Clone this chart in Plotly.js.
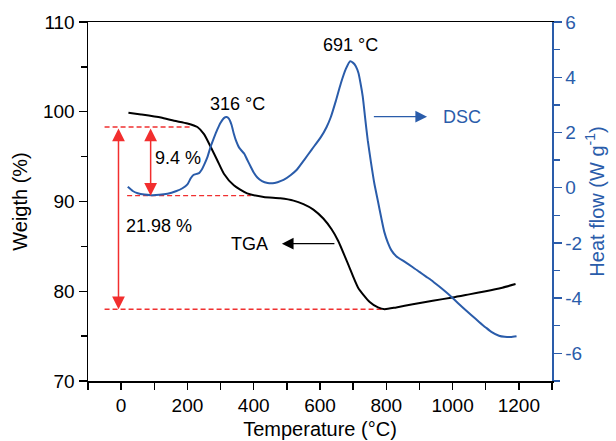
<!DOCTYPE html>
<html>
<head>
<meta charset="utf-8">
<script src="https://cdn.plot.ly/plotly-3.0.1.min.js"></script>
<style>html,body{margin:0;padding:0;background:#fff;}#chart{width:616px;height:441px;}</style>
</head>
<body>
<div id="chart"></div>
<script>
// ---- data ----
var tgaTemp = [22, 60, 120, 160, 200, 230, 250, 270, 290, 310, 340, 380, 430, 480, 520, 550, 580, 610, 635, 655, 685, 715, 750, 775, 795, 830, 880, 940, 1000, 1050, 1100, 1150, 1190];
var tgaWeight = [99.9, 99.7, 99.35, 99.0, 98.7, 98.3, 97.5, 96.1, 94.6, 93.1, 91.8, 90.9, 90.5, 90.35, 90.1, 89.7, 89.1, 88.1, 86.9, 85.6, 83.0, 80.4, 78.8, 78.2, 78.0, 78.2, 78.55, 78.95, 79.3, 79.65, 80.0, 80.4, 80.8];

var dscTemp = [20, 35, 50, 70, 90, 115, 140, 165, 185, 200, 210, 218, 228, 235, 243, 250, 260, 270, 280, 290, 300, 310, 318, 325, 333, 340, 346, 356, 365, 372, 380, 391, 400, 411, 425, 442, 457, 472, 490, 512, 530, 552, 575, 603, 620, 633, 648, 663, 678, 691, 700, 708, 716, 722, 729, 736, 744, 754, 764, 775, 785, 794, 805, 815, 830, 855, 880, 900, 920, 936, 960, 980, 996, 1020, 1040, 1057, 1080, 1100, 1117, 1140, 1157, 1175, 1193];
var dscHeat = [0.03, -0.12, -0.2, -0.25, -0.27, -0.26, -0.22, -0.13, -0.02, 0.12, 0.34, 0.46, 0.5, 0.53, 0.65, 0.82, 1.1, 1.48, 1.8, 2.1, 2.35, 2.52, 2.56, 2.5, 2.28, 1.95, 1.72, 1.45, 1.32, 1.22, 1.02, 0.76, 0.55, 0.37, 0.24, 0.17, 0.16, 0.2, 0.28, 0.46, 0.65, 1.0, 1.38, 1.84, 2.2, 2.57, 3.15, 3.78, 4.3, 4.58, 4.52, 4.4, 4.15, 3.8, 3.3, 2.55, 1.72, 0.9, 0.15, -0.5, -1.1, -1.6, -2.0, -2.26, -2.48, -2.68, -2.88, -3.05, -3.22, -3.35, -3.58, -3.78, -3.95, -4.22, -4.44, -4.62, -4.86, -5.06, -5.22, -5.36, -5.4, -5.41, -5.38];

// reference (dashed) levels of weight
var refLevel = [98.3, 90.65, 78.0];
var refStart = [-50, 18, -50];
var refEnd = [215, 391, 802];

// labels
var peakLabels = ['316 °C', '691 °C'];
var peakLabelX = [351, 693];
var peakLabelY = [100.9, 107.4];
var lossLabels = ['9.4 %', '21.98 %'];
var lossLabelX = [172, 113];
var lossLabelY = [94.8, 87.3];
var lossArrowX = [89, -8];
var lossArrowTop = [98.3, 98.3];
var lossArrowBottom = [90.65, 78.0];

var xTicks = [0, 200, 400, 600, 800, 1000, 1200];
var yTicks = [70, 80, 90, 100, 110];
var y2Ticks = [-6, -4, -2, 0, 2, 4, 6];
var y2TickText = ['-6', '-4', '-2', '0', '2', '4', '6'];

var BLUE = '#2a5caa';
var RED = '#f22e2e';
var FONT = 'Arial, "Liberation Sans", sans-serif';

var traces = [];
for (var i = 0; i < refLevel.length; i++) {
  traces.push({
    x: [refStart[i], refEnd[i]], y: [refLevel[i], refLevel[i]],
    mode: 'lines', line: {color: '#f03030', width: 1.4, dash: '5px,3px'},
    hoverinfo: 'skip', showlegend: false, xaxis: 'x', yaxis: 'y'
  });
}
traces.push({
  x: tgaTemp, y: tgaWeight, mode: 'lines', name: 'TGA',
  line: {color: '#000', width: 2, shape: 'spline', smoothing: 0.6},
  xaxis: 'x', yaxis: 'y', showlegend: false
});
traces.push({
  x: dscTemp, y: dscHeat, mode: 'lines', name: 'DSC',
  line: {color: BLUE, width: 2, shape: 'spline', smoothing: 0.6},
  xaxis: 'x', yaxis: 'y2', showlegend: false
});

var annotations = [];
for (var j = 0; j < peakLabels.length; j++) {
  annotations.push({x: peakLabelX[j], y: peakLabelY[j], xref: 'x', yref: 'y', text: peakLabels[j],
    showarrow: false, font: {family: FONT, size: 18, color: '#000'}, xanchor: 'center', yanchor: 'middle'});
}
for (var k = 0; k < lossLabels.length; k++) {
  annotations.push({x: lossLabelX[k], y: lossLabelY[k], xref: 'x', yref: 'y', text: lossLabels[k],
    showarrow: false, font: {family: FONT, size: 18, color: '#000'}, xanchor: 'center', yanchor: 'middle'});
  annotations.push({x: lossArrowX[k], y: lossArrowBottom[k], xref: 'x', yref: 'y',
    ax: lossArrowX[k], ay: lossArrowTop[k], axref: 'x', ayref: 'y', text: '',
    showarrow: true, arrowside: 'end+start', arrowhead: 2, startarrowhead: 2,
    arrowsize: 1.7, startarrowsize: 1.7, arrowwidth: 1.5, arrowcolor: RED, standoff: 0, startstandoff: 0});
}
// series labels with arrows
annotations.push({x: 1029, y: 99.45, xref: 'x', yref: 'y', text: 'DSC', showarrow: false,
  font: {family: FONT, size: 18, color: BLUE}, xanchor: 'center', yanchor: 'middle'});
annotations.push({x: 923, y: 99.45, xref: 'x', yref: 'y', ax: 758, ay: 99.45, axref: 'x', ayref: 'y', text: '',
  showarrow: true, arrowhead: 2, arrowsize: 1.8, arrowwidth: 1.3, arrowcolor: BLUE, standoff: 0});
annotations.push({x: 388, y: 85.3, xref: 'x', yref: 'y', text: 'TGA', showarrow: false,
  font: {family: FONT, size: 18, color: '#000'}, xanchor: 'center', yanchor: 'middle'});
annotations.push({x: 485, y: 85.3, xref: 'x', yref: 'y', ax: 648, ay: 85.3, axref: 'x', ayref: 'y', text: '',
  showarrow: true, arrowhead: 2, arrowsize: 1.8, arrowwidth: 1.3, arrowcolor: '#000', standoff: 0});

var layout = {
  width: 616, height: 441,
  margin: {l: 88, r: 64, t: 22, b: 60, pad: 0},
  paper_bgcolor: '#fff', plot_bgcolor: '#fff',
  font: {family: FONT, size: 19, color: '#000'},
  showlegend: false,
  xaxis: {
    range: [-100, 1300], tickvals: xTicks, ticks: 'outside', ticklen: 7, tickwidth: 1.3, tickcolor: '#000',
    showline: true, linecolor: '#000', linewidth: 1.5, mirror: true, showgrid: false, zeroline: false,
    minor: {ticks: 'outside', dtick: 100, tick0: 0, ticklen: 7, tickwidth: 1.3, tickcolor: '#000', showgrid: false},
    tickfont: {family: FONT, size: 19, color: '#000'},
    title: {text: 'Temperature (°C)', font: {family: FONT, size: 20, color: '#000'}, standoff: 6}
  },
  yaxis: {
    range: [70, 110], tickvals: yTicks, ticks: 'outside', ticklen: 8, tickwidth: 1.3, tickcolor: '#000',
    showline: true, linecolor: '#000', linewidth: 1.5, showgrid: false, zeroline: false,
    minor: {ticks: 'outside', dtick: 5, tick0: 70, ticklen: 6, tickwidth: 1.3, tickcolor: '#000', showgrid: false},
    tickfont: {family: FONT, size: 19, color: '#000'},
    title: {text: 'Weigth (%)', font: {family: FONT, size: 20, color: '#000'}, standoff: 10}
  },
  yaxis2: {
    overlaying: 'y', side: 'right', anchor: 'x',
    range: [-7, 6], tickvals: y2Ticks, ticktext: y2TickText, ticks: 'outside', ticklen: 8, tickwidth: 1.3, tickcolor: BLUE,
    showline: true, linecolor: BLUE, linewidth: 1.5, showgrid: false, zeroline: false,
    minor: {ticks: 'outside', dtick: 1, tick0: 0, ticklen: 6, tickwidth: 1.3, tickcolor: BLUE, showgrid: false},
    tickfont: {family: FONT, size: 19, color: BLUE},
    title: {text: 'Heat flow (W g<sup>-1</sup>)', font: {family: FONT, size: 20, color: BLUE}, standoff: 8}
  },
  annotations: annotations
};

Plotly.newPlot('chart', traces, layout, {staticPlot: true, displayModeBar: false});
</script>
</body>
</html>
